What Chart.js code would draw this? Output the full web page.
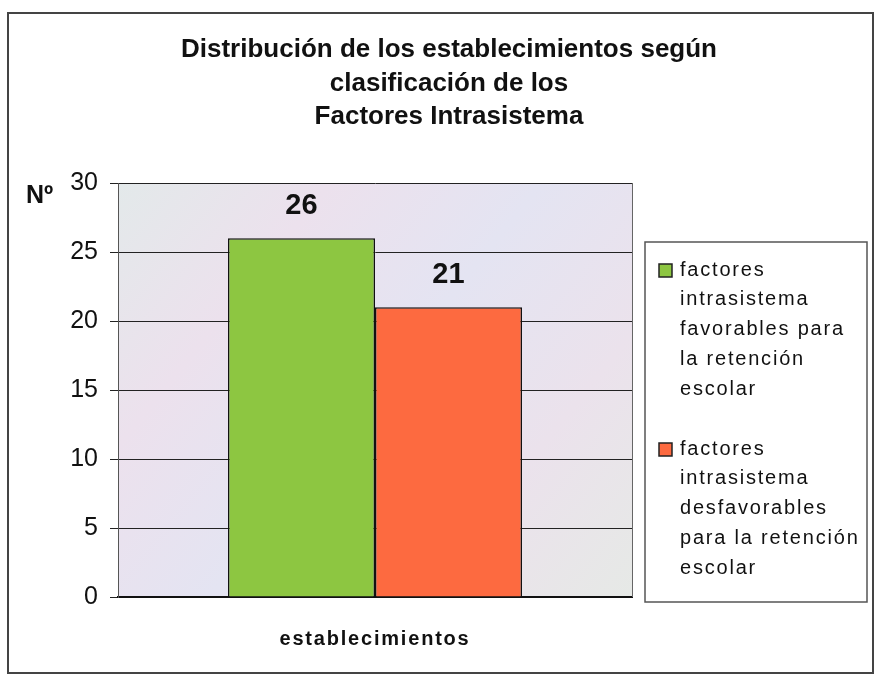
<!DOCTYPE html>
<html>
<head>
<meta charset="utf-8">
<script src="https://cdn.jsdelivr.net/npm/chart.js@4.4.1/dist/chart.umd.min.js"></script>
<style>
  html, body { margin: 0; padding: 0; background: #fff; }
  #chart-container { width: 875px; height: 675px; }
</style>
</head>
<body>
<div id="chart-container"><canvas id="myChart" width="875" height="675"></canvas></div>
<script>
// chart data
const categories = ['establecimientos'];
const favorables = [26];
const desfavorables = [21];
const yTicks = [0, 5, 10, 15, 20, 25, 30];
const titleLines = ['Distribución de los establecimientos según', 'clasificación de los', 'Factores Intrasistema'];
const seriesNames = [
  'factores intrasistema favorables para la retención escolar',
  'factores intrasistema desfavorables para la retención escolar'
];
// how the legend wraps each series name
const legendLines = [
  ['factores', 'intrasistema', 'favorables para', 'la retención', 'escolar'],
  ['factores', 'intrasistema', 'desfavorables', 'para la retención', 'escolar']
];
const yAxisLabel = 'Nº';

const FONT = "'Liberation Sans', Arial, sans-serif";
const colors = ['#8dc641', '#fd6a40'];

// background, borders, title, value labels and legend
const decorations = {
  id: 'decorations',
  beforeDraw(chart) {
    const { ctx, chartArea: a } = chart;
    ctx.save();
    ctx.fillStyle = '#fff';
    ctx.fillRect(0, 0, chart.width, chart.height);
    // pastel plot background
    const g = ctx.createLinearGradient(a.left, a.top, a.right, a.bottom);
    g.addColorStop(0, '#e3e9ea');
    g.addColorStop(0.25, '#ece1ed');
    g.addColorStop(0.5, '#e4e4f2');
    g.addColorStop(0.75, '#ebe2ec');
    g.addColorStop(1, '#e6e9e6');
    ctx.fillStyle = g;
    ctx.fillRect(a.left, a.top, a.right - a.left, a.bottom - a.top);
    ctx.restore();
  },
  afterDatasetsDraw(chart) {
    const { ctx, chartArea: a } = chart;
    ctx.save();
    // right edge of plot
    ctx.strokeStyle = '#666';
    ctx.lineWidth = 1;
    ctx.beginPath();
    ctx.moveTo(a.right + 0.5, a.top);
    ctx.lineTo(a.right + 0.5, a.bottom);
    ctx.stroke();

    // value labels above bars
    ctx.fillStyle = '#111';
    ctx.font = 'bold 29px ' + FONT;
    ctx.textAlign = 'center';
    ctx.textBaseline = 'middle';
    chart.data.datasets.forEach((ds, i) => {
      chart.getDatasetMeta(i).data.forEach((bar, j) => {
        ctx.fillText(String(ds.data[j]), bar.x, bar.y - 32);
      });
    });
    ctx.restore();
  },
  afterDraw(chart) {
    const { ctx, chartArea: a } = chart;
    ctx.save();
    // outer frame
    ctx.strokeStyle = '#444';
    ctx.lineWidth = 2;
    ctx.strokeRect(8, 13, 865, 660);

    // title
    ctx.fillStyle = '#111';
    ctx.font = 'bold 26px ' + FONT;
    ctx.textAlign = 'center';
    ctx.textBaseline = 'middle';
    titleLines.forEach((t, i) => ctx.fillText(t, 449, 50 + i * 33.5));

    // y axis caption
    ctx.font = 'bold 25px ' + FONT;
    ctx.textAlign = 'left';
    ctx.textBaseline = 'alphabetic';
    ctx.fillText(yAxisLabel, 26, 203);

    // category label
    ctx.letterSpacing = '1.8px';
    ctx.font = 'bold 20px ' + FONT;
    ctx.textAlign = 'center';
    ctx.fillText(categories[0], (a.left + a.right) / 2, 645);

    // legend box
    ctx.strokeStyle = '#555';
    ctx.lineWidth = 1.5;
    ctx.strokeRect(645, 242, 222, 360);
    ctx.font = '20px ' + FONT;
    ctx.textAlign = 'left';
    ctx.textBaseline = 'middle';
    const starts = [270, 449];
    legendLines.forEach((lines, i) => {
      const y0 = starts[i];
      ctx.fillStyle = colors[i];
      ctx.fillRect(659, y0 - 6, 13, 13);
      ctx.strokeStyle = '#222';
      ctx.lineWidth = 1.5;
      ctx.strokeRect(659, y0 - 6, 13, 13);
      ctx.fillStyle = '#111';
      lines.forEach((t, k) => ctx.fillText(t, 680, y0 + k * 29.8));
    });
    ctx.restore();
  }
};

const ctx = document.getElementById('myChart');
new Chart(ctx, {
  type: 'bar',
  data: {
    labels: categories,
    datasets: [
      {
        label: seriesNames[0],
        data: favorables,
        backgroundColor: colors[0],
        borderColor: '#111',
        borderWidth: 1.5
      },
      {
        label: seriesNames[1],
        data: desfavorables,
        backgroundColor: colors[1],
        borderColor: '#111',
        borderWidth: 1.5
      }
    ]
  },
  options: {
    responsive: false,
    devicePixelRatio: 1,
    animation: false,
    categoryPercentage: 0.572,
    barPercentage: 1,
    layout: { padding: { left: 0, top: 183, right: 243, bottom: 78 } },
    plugins: {
      legend: { display: false },
      title: { display: false },
      tooltip: { enabled: false }
    },
    scales: {
      x: {
        ticks: { display: false },
        grid: { display: false },
        border: { color: '#111', width: 2 },
        afterFit: (scale) => { scale.height = 0; }
      },
      y: {
        min: 0,
        max: 30,
        afterBuildTicks: (scale) => { scale.ticks = yTicks.map(v => ({ value: v })); },
        ticks: {
          color: '#111',
          font: { family: FONT, size: 25 },
          padding: 12
        },
        grid: { color: '#222', lineWidth: 1, tickLength: 8 },
        border: { color: '#555', width: 1 },
        afterFit: (scale) => { scale.width = 118; }
      }
    }
  },
  plugins: [decorations]
});
</script>
</body>
</html>
